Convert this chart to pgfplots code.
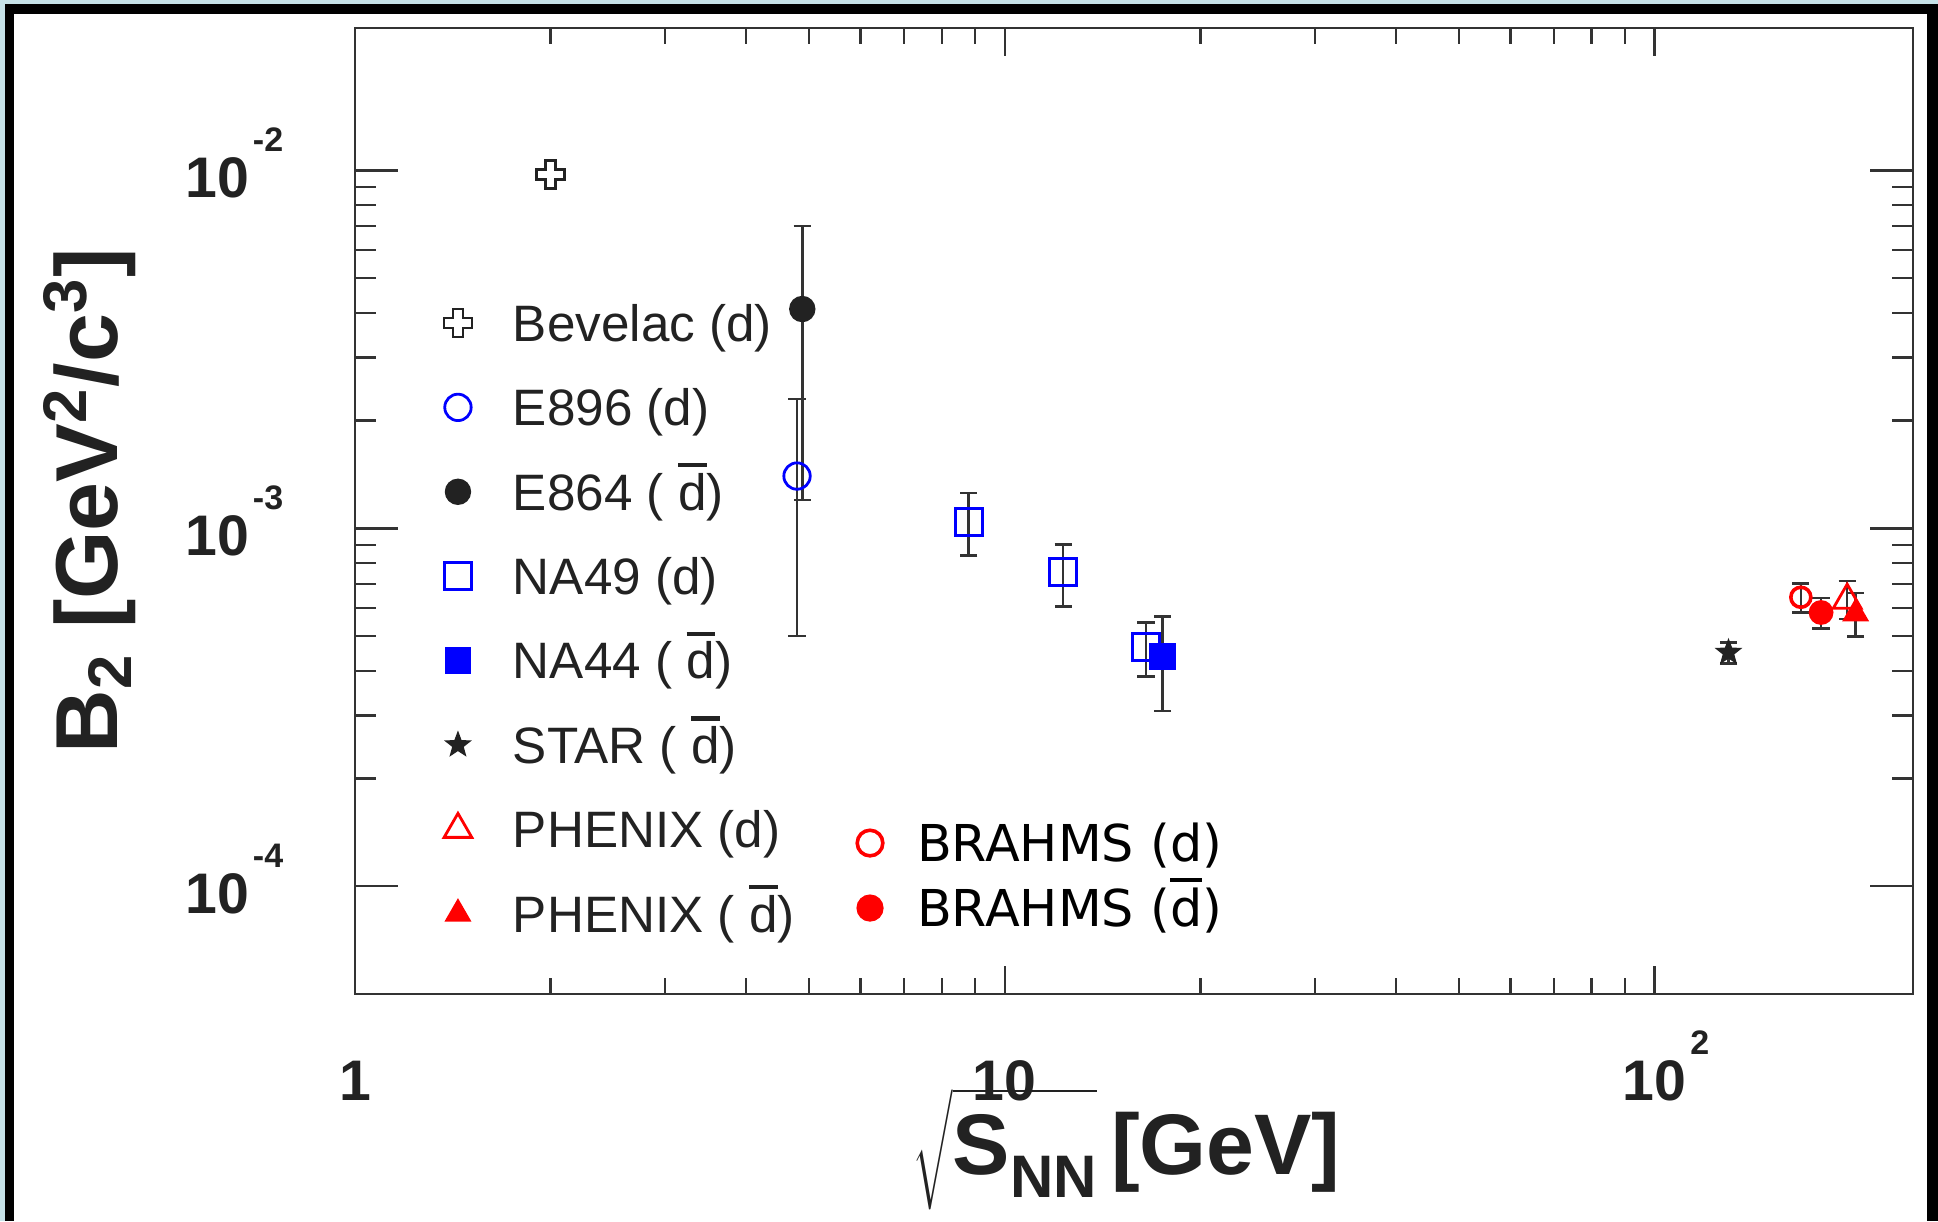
\documentclass[border=0pt]{standalone}
\usepackage{pgfplots}
\pgfplotsset{compat=1.18}
\usetikzlibrary{plotmarks}
\usepackage{fontspec}
\setmainfont{Liberation Sans}
\newfontfamily\djv{DejaVu Sans}

\definecolor{ink}{HTML}{222222}
\definecolor{ebar}{HTML}{333333}
\definecolor{pblue}{HTML}{0000FF}
\definecolor{pred}{HTML}{FF0000}
\definecolor{edge}{HTML}{C6E2E8}

% anti-deuteron: d with a heavy bar
\DeclareRobustCommand\dbar{{\setbox0=\hbox{d}\leavevmode\rlap{\raisebox{\dimexpr\ht0+1.4pt\relax}{\rule{\wd0}{1.1pt}}}d}}
% 10^n tick labels, ROOT style
\newcommand\tens[1]{\textbf{10}\kern1pt\raisebox{0.8em}{\fontsize{8.5}{9}\selectfont\textbf{#1}}}

% ROOT open cross (marker 28)
\pgfdeclareplotmark{ocross}{%
  \pgfmathsetlengthmacro\ocA{\pgfplotmarksize}%
  \pgfmathsetlengthmacro\ocB{0.36*\pgfplotmarksize}%
  \pgfpathmoveto{\pgfpoint{-\ocB}{\ocA}}%
  \pgfpathlineto{\pgfpoint{\ocB}{\ocA}}%
  \pgfpathlineto{\pgfpoint{\ocB}{\ocB}}%
  \pgfpathlineto{\pgfpoint{\ocA}{\ocB}}%
  \pgfpathlineto{\pgfpoint{\ocA}{-\ocB}}%
  \pgfpathlineto{\pgfpoint{\ocB}{-\ocB}}%
  \pgfpathlineto{\pgfpoint{\ocB}{-\ocA}}%
  \pgfpathlineto{\pgfpoint{-\ocB}{-\ocA}}%
  \pgfpathlineto{\pgfpoint{-\ocB}{-\ocB}}%
  \pgfpathlineto{\pgfpoint{-\ocA}{-\ocB}}%
  \pgfpathlineto{\pgfpoint{-\ocA}{\ocB}}%
  \pgfpathlineto{\pgfpoint{-\ocB}{\ocB}}%
  \pgfpathclose
  \pgfusepathqfillstroke
}
% ROOT full star (marker 29)
\pgfdeclareplotmark{fstar}{%
  \pgfpathmoveto{\pgfpointpolar{90}{\pgfplotmarksize}}%
  \pgfpathlineto{\pgfpointpolar{126}{0.42\pgfplotmarksize}}%
  \pgfpathlineto{\pgfpointpolar{162}{\pgfplotmarksize}}%
  \pgfpathlineto{\pgfpointpolar{198}{0.42\pgfplotmarksize}}%
  \pgfpathlineto{\pgfpointpolar{234}{\pgfplotmarksize}}%
  \pgfpathlineto{\pgfpointpolar{270}{0.42\pgfplotmarksize}}%
  \pgfpathlineto{\pgfpointpolar{306}{\pgfplotmarksize}}%
  \pgfpathlineto{\pgfpointpolar{342}{0.42\pgfplotmarksize}}%
  \pgfpathlineto{\pgfpointpolar{18}{\pgfplotmarksize}}%
  \pgfpathlineto{\pgfpointpolar{54}{0.42\pgfplotmarksize}}%
  \pgfpathclose
  \pgfusepathqfillstroke
}

\begin{document}
\begin{tikzpicture}
  % slide frame around the figure
  \begin{scope}[x=0.25pt, y=-0.25pt, yshift=305.25pt]
    \fill[edge] (0,0) rectangle (1938,1221);
    \fill[black] (5,4) rectangle (1938,1221);
    \fill[white] (14,14) rectangle (1927,1221);
  \end{scope}
  \path[use as bounding box] (0,0) rectangle (484.5pt,305.25pt);

  % main axis: data, x ticks, left legend
  \begin{axis}[
      at={(88.75pt,56.75pt)}, anchor=south west,
      scale only axis, width=389.5pt, height=241.5pt,
      xmode=log, ymode=log, xmin=1, xmax=250, ymin=5e-5, ymax=0.025,
      axis line style={line width=0.7pt, draw=ebar},
      tick style={line width=0.6pt, draw=ebar},
      tick label style={font=\fontsize{14.3}{16}\selectfont\bfseries, text=ink, inner sep=0pt},
      major tick length=7pt, minor tick length=4pt,
      ytick=\empty,
      xticklabels={1,10,10\rlap{\smash{\kern1pt\raisebox{0.8em}{\fontsize{8.5}{9}\selectfont\textbf{2}}}}},
      xticklabel style={yshift=-16.5pt},
      error bars/y dir=both, error bars/y explicit,
      error bars/error bar style={line width=0.65pt, draw=ebar},
      error bars/error mark options={rotate=90, line width=0.65pt, draw=ebar, mark size=2.15pt},
      legend cell align=left,
      legend style={at={(0.0571,0.7195)}, anchor=north west, draw=none, fill=none,
        inner sep=0pt, outer sep=0pt, row sep=9.1pt, column sep=10.25pt,
        font=\fontsize{12.8}{14}\selectfont, text=ink,
        nodes={inner sep=0pt, text height=10.6pt, text depth=1.4pt}},
      legend image code/.code={\path[draw=none, fill=none] (-3.5pt,-6pt) rectangle (3.5pt,6pt);
        \draw[#1] plot coordinates {(0pt,0pt)};},
    ]
    \addplot[only marks, mark=ocross, mark size=3.5pt,
      mark options={draw=ink, fill=white, line width=0.6pt}]
      coordinates {(2.0,9.75e-3) +- (0,0)};
    \addlegendentry{Bevelac (d)}
    \addplot[only marks, mark=o, mark size=3.3pt,
      mark options={draw=pblue, fill=white, line width=0.7pt}]
      coordinates {(4.79,1.40e-3) +- (0,0.90e-3)};
    \addlegendentry{E896 (d)}
    \addplot[only marks, mark=*, mark size=3.1pt,
      mark options={draw=ink, fill=ink}]
      coordinates {(4.88,4.10e-3) +- (0,2.9e-3)};
    \addlegendentry{E864 ( \dbar)}
    \addplot[only marks, mark=square, mark size=3.4pt,
      mark options={draw=pblue, fill=white, line width=0.75pt}]
      coordinates {
        (8.8,1.04e-3) += (0,0.215e-3) -= (0,0.20e-3)
        (12.3,7.54e-4) +- (0,1.48e-4)
        (16.5,4.67e-4) += (0,0.79e-4) -= (0,0.82e-4)
      };
    \addlegendentry{NA49 (d)}
    \addplot[only marks, mark=square*, mark size=3.1pt,
      mark options={draw=pblue, fill=pblue}]
      coordinates {(17.5,4.38e-4) +- (0,1.29e-4)};
    \addlegendentry{NA44 ( \dbar)}
    \addplot[only marks, mark=fstar, mark size=3.2pt,
      mark options={draw=ink, fill=ink, line width=0.3pt}]
      coordinates {(130,4.5e-4) +- (0,0.3e-4)};
    \addlegendentry{STAR ( \dbar)}
    \addplot[only marks, mark=triangle, mark size=4pt,
      mark options={draw=pred, fill=white, line width=0.7pt}]
      coordinates {(198,6.30e-4) += (0,0.82e-4) -= (0,0.72e-4)};
    \addlegendentry{PHENIX (d)}
    \addplot[only marks, mark=triangle*, mark size=3.5pt,
      mark options={draw=pred, fill=pred}]
      coordinates {(204,5.78e-4) += (0,0.81e-4) -= (0,0.80e-4)};
    \addlegendentry{PHENIX ( \dbar)}
  \end{axis}

  % second axis: y ticks, BRAHMS and its legend
  \begin{axis}[
      at={(88.75pt,56.75pt)}, anchor=south west,
      scale only axis, width=389.5pt, height=241.5pt,
      xmode=log, ymode=log, xmin=1, xmax=250, ymin=5e-5, ymax=0.025,
      axis line style={line width=0.7pt, draw=ebar},
      tick style={line width=0.6pt, draw=ebar},
      tick label style={font=\fontsize{14.3}{16}\selectfont\bfseries, text=ink, inner sep=0pt},
      major tick length=10.8pt, minor tick length=5.3pt,
      xtick=\empty,
      ytick={1e-4,1e-3,1e-2},
      yticklabels={\tens{-4},\tens{-3},\tens{-2}},
      yticklabel style={anchor=east, xshift=-17.75pt, yshift=1.8pt},
      error bars/y dir=both, error bars/y explicit,
      error bars/error bar style={line width=0.65pt, draw=ebar},
      error bars/error mark options={rotate=90, line width=0.65pt, draw=ebar, mark size=2.15pt},
      legend cell align=left,
      legend style={at={(0.3221,0.1832)}, anchor=north west, draw=none, fill=none,
        inner sep=0pt, outer sep=0pt, row sep=3.25pt, column sep=8.45pt,
        font=\djv\fontsize{12.7}{14}\selectfont, text=black,
        nodes={inner sep=0pt, text height=11.13pt, text depth=1.87pt}},
      legend image code/.code={\path[draw=none, fill=none] (-3.3pt,-6.5pt) rectangle (3.3pt,6.5pt);
        \draw[#1, mark size=3.2pt] plot coordinates {(0pt,0pt)};},
    ]
    \addplot[only marks, mark=o, mark size=2.5pt,
      mark options={draw=pred, fill=white, line width=0.9pt}]
      coordinates {(168,6.42e-4) +- (0,0.6e-4)};
    \addlegendentry{BRAHMS (d)}
    \addplot[only marks, mark=*, mark size=2.9pt,
      mark options={draw=pred, fill=pred}]
      coordinates {(180.5,5.82e-4) +- (0,0.57e-4)};
    \addlegendentry{BRAHMS (\dbar)}
  \end{axis}

  % axis titles
  \node[rotate=90, anchor=base west, inner sep=0pt, text=ink,
    font=\fontsize{22}{24}\selectfont\bfseries] at (29.25pt,116.75pt)
    {B\textsubscript{2} [GeV\textsuperscript{2}/c\textsuperscript{3}]};
  \node[anchor=base west, inner sep=0pt, text=ink,
    font=\fontsize{21.5}{24}\selectfont\bfseries] at (228pt,11.75pt)
    {$\sqrt{\rule[-7pt]{0pt}{25pt}\hbox{S\raisebox{-6pt}{\fontsize{15}{16}\selectfont NN}}}$\,[GeV]};
\end{tikzpicture}
\end{document}
